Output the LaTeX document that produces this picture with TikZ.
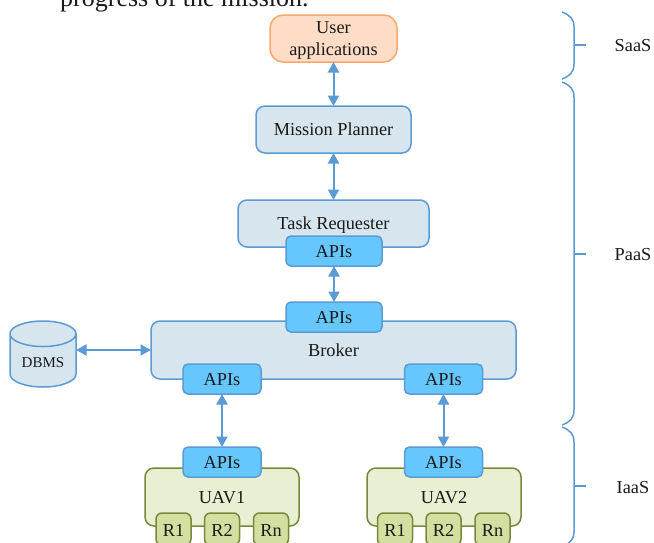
\documentclass[tikz,border=0pt]{standalone}
\usepackage{fontspec}
\setmainfont{Liberation Serif}
\usetikzlibrary{arrows.meta,shapes.geometric}
\definecolor{blueline}{HTML}{5B9BD5}
\definecolor{bluefill}{HTML}{D6E5EE}
\definecolor{apifill}{HTML}{66C7FF}
\definecolor{orangeline}{HTML}{F8A86B}
\definecolor{orangefill}{HTML}{FFDCC6}
\definecolor{greenline}{HTML}{76893A}
\definecolor{greenfill}{HTML}{E8EFD3}
\definecolor{resfill}{HTML}{D2DFA0}
\definecolor{ink}{HTML}{1A1A1A}
\tikzset{
  base/.style={draw, line width=1.5pt, rounded corners=#1, align=center, inner sep=0pt, outer sep=0pt, text=ink,
    font=\fontsize{18.3}{22}\selectfont},
  box/.style={base=9pt, draw=blueline, fill=bluefill, text height=15pt, text depth=2.5pt},
  userbox/.style={base=13pt, draw=orangeline, fill=orangefill, minimum width=127pt, minimum height=47pt, text depth=0pt},
  apibox/.style={base=5pt, draw=blueline, fill=apifill, text height=15pt, text depth=2.5pt, minimum height=30pt},
  uavbox/.style={base=9pt, draw=greenline, fill=greenfill, text height=15pt, text depth=2.5pt, minimum width=154pt, minimum height=58pt},
  resbox/.style={base=6pt, draw=greenline, fill=resfill, minimum width=35pt, minimum height=32pt, text height=15pt, text depth=0.5pt},
  dbbox/.style={draw=blueline, fill=bluefill, line width=1.5pt, cylinder, shape border rotate=90, aspect=0.6,
    minimum width=66pt, minimum height=66pt, inner sep=0pt, outer sep=0pt, text=ink, font=\fontsize{15}{18}\selectfont, anchor=shape center, text height=13pt, text depth=0pt},
  link/.style={draw=blueline, line width=2pt, {Triangle[length=10.5pt,width=11pt]}-{Triangle[length=10.5pt,width=11pt]}},
  bracel/.style={draw=blueline, line width=1.5pt},
  layer/.style={text=ink, inner sep=0pt, font=\fontsize{18.3}{22}\selectfont}
}
\begin{document}
\begin{tikzpicture}[x=1pt,y=-1pt]
\useasboundingbox (0,0) rectangle (654,542);
\clip (0,0) rectangle (654,542);
\fill[white] (0,0) rectangle (654,542);
\node[anchor=base west, inner sep=0pt, text=ink, font=\fontsize{26}{30}\selectfont] (intro) at (60,6) {progress of the mission.};
\node[userbox] (user) at (333.5,38.5) {User\\applications};
\node[box, minimum width=155pt, minimum height=47pt] (planner) at (333.5,129.5) {Mission Planner};
\node[box, minimum width=191pt, minimum height=47pt] (task) at (333.5,223.5) {Task Requester};
\node[apibox, minimum width=96pt] (apitask) at (334,251) {APIs};
\node[box, minimum width=365pt, minimum height=58pt] (broker) at (333.5,350) {Broker};
\node[apibox, minimum width=96pt] (apibroker) at (334,317) {APIs};
\node[apibox, minimum width=78pt] (apib1) at (222,379) {APIs};
\node[apibox, minimum width=78pt] (apib2) at (443.5,379) {APIs};
\node[uavbox] (uav1) at (222,497) {UAV1};
\node[uavbox] (uav2) at (444,497) {UAV2};
\node[apibox, minimum width=78pt] (apiu1) at (222,462) {APIs};
\node[apibox, minimum width=78pt] (apiu2) at (443.5,462) {APIs};
\node[resbox] (r11) at (173.5,529) {R1};
\node[resbox] (r12) at (222,529) {R2};
\node[resbox] (r1n) at (271,529) {Rn};
\node[resbox] (r21) at (395,529) {R1};
\node[resbox] (r22) at (443.5,529) {R2};
\node[resbox] (r2n) at (492.5,529) {Rn};
\node[dbbox] (dbms) at (43,354) {DBMS};
\draw[link] (user) -- (planner);
\draw[link] (planner) -- (task);
\draw[link] (apitask) -- (apibroker);
\draw[link] (dbms.east |- broker.west) -- (broker.west);
\draw[link] (apib1) -- (apiu1);
\draw[link] (apib2) -- (apiu2);
% braces
\draw[bracel] (562,12) .. controls (570,15) and (574,19) .. (574,27) -- (574,64) .. controls (574,72) and (570,76) .. (562,79);
\draw[bracel] (574,45) -- (586,45);
\draw[bracel] (562,82) .. controls (570,85) and (574,89) .. (574,97) -- (574,410) .. controls (574,418) and (570,422) .. (562,425);
\draw[bracel] (574,254) -- (586,254);
\draw[bracel] (562,427) .. controls (570,430) and (574,434) .. (574,442) -- (574,532) .. controls (574,538) and (571,542) .. (566,545);
\draw[bracel] (574,486) -- (586,486);
\node[layer] (saas) at (633,46) {SaaS};
\node[layer] (paas) at (633,255) {PaaS};
\node[layer] (iaas) at (633,488) {IaaS};
\end{tikzpicture}
\end{document}
